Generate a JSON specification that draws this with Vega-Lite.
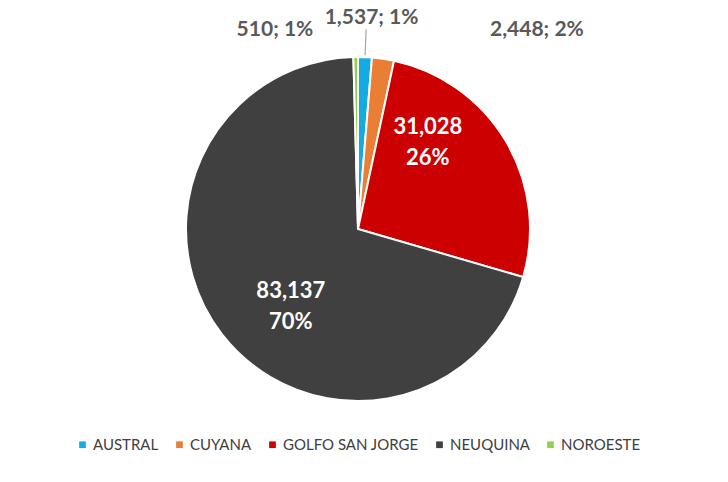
{
  "$schema": "https://vega.github.io/schema/vega-lite/v6.json",
  "autosize": "none",
  "width": 716,
  "height": 380,
  "padding": {"left": 0, "top": 39, "right": 12, "bottom": 63},
  "background": "white",
  "data": {
    "values": [
      {"basin": "AUSTRAL", "value": 1537, "pct": 1, "idx": 1},
      {"basin": "CUYANA", "value": 2448, "pct": 2, "idx": 2},
      {"basin": "GOLFO SAN JORGE", "value": 31028, "pct": 26, "idx": 3},
      {"basin": "NEUQUINA", "value": 83137, "pct": 70, "idx": 4},
      {"basin": "NOROESTE", "value": 510, "pct": 1, "idx": 5}
    ]
  },
  "transform": [
    {"calculate": "format(datum.value, ',') + '\\n' + datum.pct + '%'", "as": "lblIn"},
    {"calculate": "format(datum.value, ',') + '; ' + datum.pct + '%'", "as": "lblOut"}
  ],
  "encoding": {
    "theta": {"field": "value", "type": "quantitative", "stack": true},
    "order": {"field": "idx", "type": "quantitative"}
  },
  "layer": [
    {
      "mark": {"type": "arc", "outerRadius": 172, "stroke": "white", "strokeWidth": 2},
      "encoding": {
        "color": {
          "field": "basin",
          "type": "nominal",
          "scale": {
            "domain": ["AUSTRAL", "CUYANA", "GOLFO SAN JORGE", "NEUQUINA", "NOROESTE"],
            "range": ["#14ABE3", "#E97E34", "#CC0000", "#404040", "#92D050"]
          },
          "legend": {
            "title": null,
            "orient": "bottom",
            "direction": "horizontal",
            "symbolType": "square",
            "symbolSize": 45,
            "symbolStrokeWidth": 0,
            "labelFont": "Lato",
            "labelFontSize": 15,
            "labelColor": "#404040",
            "labelOffset": 3,
            "columnPadding": 13,
            "symbolOffset": 0,
            "offset": 18
          }
        }
      }
    },
    {
      "mark": {"type": "arc", "outerRadius": 200, "innerRadius": 174, "padAngle": 0.2, "fillOpacity": 0, "stroke": "#A6A6A6", "strokeWidth": 1.2},
      "encoding": {
        "detail": {"field": "basin"},
        "strokeOpacity": {"condition": {"test": "datum.basin === 'AUSTRAL'", "value": 1}, "value": 0}
      }
    },
    {
      "mark": {"type": "text", "radius": 100, "dx": 12, "dy": 1, "font": "Lato", "fontWeight": "bold", "fontSize": 22, "lineHeight": 31, "lineBreak": "\n", "color": "white", "align": "center", "baseline": "middle"},
      "encoding": {
        "detail": {"field": "basin"},
        "text": {"condition": {"test": "datum.basin === 'NEUQUINA'", "field": "lblIn"}, "value": ""}
      }
    },
    {
      "mark": {"type": "text", "radius": 100, "dx": -16, "dy": -51, "font": "Lato", "fontWeight": "bold", "fontSize": 22, "lineHeight": 31, "lineBreak": "\n", "color": "white", "align": "center", "baseline": "middle"},
      "encoding": {
        "detail": {"field": "basin"},
        "text": {"condition": {"test": "datum.basin === 'GOLFO SAN JORGE'", "field": "lblIn"}, "value": ""}
      }
    },
    {
      "mark": {"type": "text", "radius": 199, "dx": -42, "dy": 0, "font": "Lato", "fontWeight": "bold", "fontSize": 21, "color": "#595959", "align": "right", "baseline": "middle"},
      "encoding": {
        "detail": {"field": "basin"},
        "text": {"condition": {"test": "datum.basin === 'NOROESTE'", "field": "lblOut"}, "value": ""}
      }
    },
    {
      "mark": {"type": "text", "radius": 211, "dx": 5, "dy": 0, "font": "Lato", "fontWeight": "bold", "fontSize": 21, "color": "#595959", "align": "center", "baseline": "middle"},
      "encoding": {
        "detail": {"field": "basin"},
        "text": {"condition": {"test": "datum.basin === 'AUSTRAL'", "field": "lblOut"}, "value": ""}
      }
    },
    {
      "mark": {"type": "text", "radius": 199, "dx": 103, "dy": -2, "font": "Lato", "fontWeight": "bold", "fontSize": 21, "color": "#595959", "align": "left", "baseline": "middle"},
      "encoding": {
        "detail": {"field": "basin"},
        "text": {"condition": {"test": "datum.basin === 'CUYANA'", "field": "lblOut"}, "value": ""}
      }
    }
  ],
  "config": {
    "view": {"stroke": null},
    "legend": {"layout": {"bottom": {"anchor": "middle"}}}
  }
}
